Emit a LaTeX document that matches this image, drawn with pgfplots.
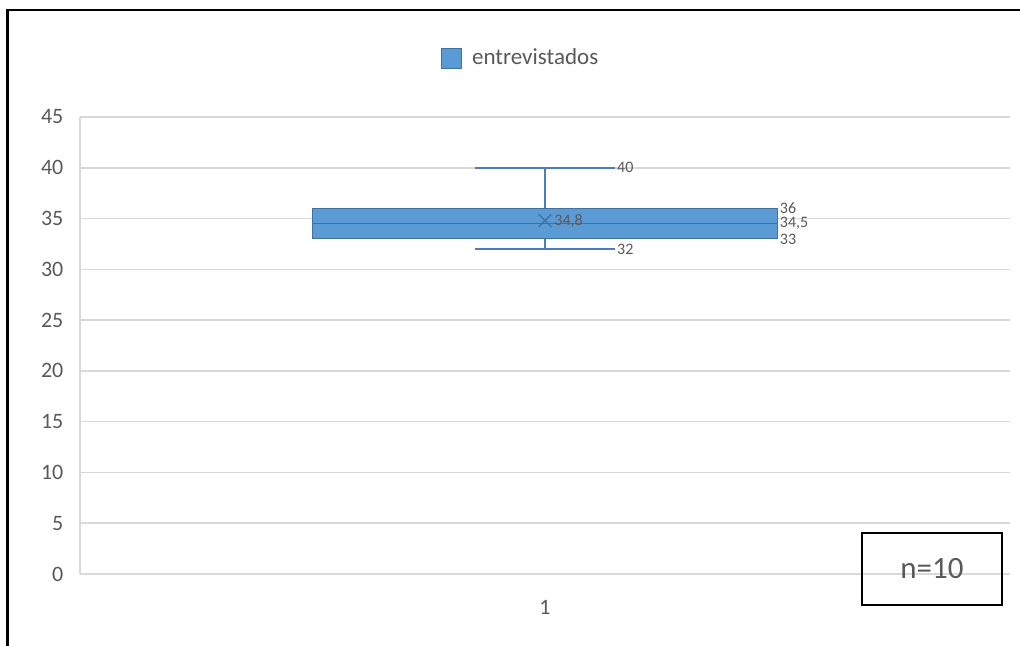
\documentclass[border=0pt]{standalone}
\usepackage{fontspec}
\setmainfont{Carlito}
\usepackage{pgfplots}
\pgfplotsset{compat=1.18}
\usepgfplotslibrary{statistics}

\definecolor{boxfill}{HTML}{5B9BD5}
\definecolor{boxline}{HTML}{41719C}
\definecolor{whisk}{HTML}{4A7EBB}
\definecolor{gridgray}{HTML}{D9D9D9}
\definecolor{txtgray}{HTML}{595959}

\begin{document}
\begin{tikzpicture}
\useasboundingbox (-40pt,-36pt) rectangle (470pt,287pt);
\begin{axis}[
  at={(0pt,0pt)}, anchor=south west,
  scale only axis, width=465pt, height=228.5pt,
  xmin=0.5, xmax=1.5, ymin=0, ymax=45,
  ytick={0,5,...,45}, xtick={1},
  ymajorgrids, grid style={gridgray, line width=0.75pt},
  axis x line*=bottom, axis y line*=left,
  axis line style={gridgray, line width=0.75pt, -},
  major tick length=0pt,
  tick label style={font=\fontsize{11}{13}\selectfont, text=txtgray},
  /pgf/number format/assume math mode=true,
  yticklabel style={xshift=-4.8pt},
  xticklabel style={yshift=-9.5pt},
  clip=false,
  legend style={at={(0.4747,1.129)}, anchor=center, draw=none,
    font=\fontsize{11.5}{13}\selectfont, text=txtgray},
  legend image code/.code={%
    \draw[fill=boxfill,draw=boxline,line width=0.4pt] (0pt,-5pt) rectangle (10pt,5pt);
    \path[draw=none,fill=none] (0pt,0pt) rectangle (13.5pt,0.1pt);},
  boxplot/draw direction=y,
  boxplot/every box/.style={fill=boxfill, draw=boxline, line width=0.6pt},
  boxplot/every whisker/.style={draw=whisk, line width=0.8pt},
  boxplot/every median/.style={draw=boxline, line width=0.6pt},
]
% five-number summary of the interviewed group
\addplot[boxplot prepared={draw position=1,
    lower whisker=32, lower quartile=33, median=34.5,
    upper quartile=36, upper whisker=40,
    box extend=0.5, whisker extend=0.15},
  solid, mark=none] coordinates {};
\addlegendentry{entrevistados}

% mean
\addplot[forget plot, only marks, mark=x, mark size=4.5pt, draw=boxline,
  mark options={line width=0.6pt}] coordinates {(1,34.8)};

% value labels
\begin{scope}[every node/.append style={font=\fontsize{8}{9}\selectfont, inner sep=1pt, anchor=west, text=txtgray}]
\node at (axis cs:1.075,40) {40};
\node at (axis cs:1.075,32) {32};
\node at (axis cs:1.25,36) {36};
\node at (axis cs:1.25,34.5) {34,5};
\node at (axis cs:1.25,33) {33};
\node[xshift=3.5pt] at (axis cs:1,34.8) {34,8};
\end{scope}
\end{axis}

% outer frame (top and left edges)
\draw[black, line width=1pt] (-36.25pt,-36pt) -- (-36.25pt,282pt) -- (470pt,282pt);

% sample size box
\draw[black, line width=1pt] (391pt,-15.5pt) rectangle (461pt,20.5pt);
\node[text=txtgray, font=\fontsize{15.5}{18}\selectfont] at (426pt,2.5pt) {n=10};
\end{tikzpicture}
\end{document}
